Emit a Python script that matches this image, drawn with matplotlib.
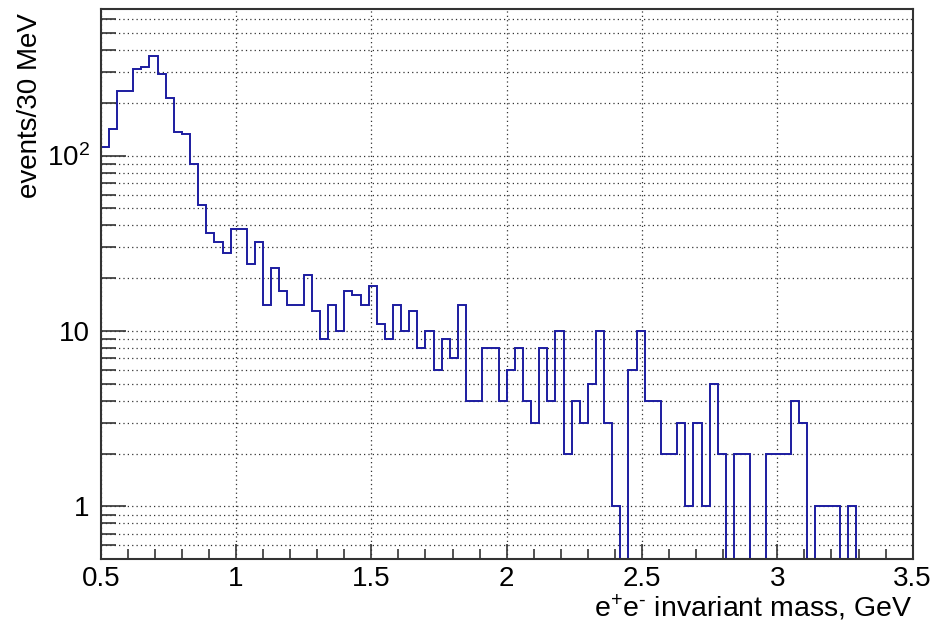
import numpy as np
import matplotlib
matplotlib.use('Agg')
import matplotlib.pyplot as plt
from matplotlib.ticker import FixedLocator, MultipleLocator, NullFormatter

plt.rcParams['font.family'] = 'Liberation Sans'
plt.rcParams['mathtext.fontset'] = 'custom'
plt.rcParams['mathtext.rm'] = 'Liberation Sans'
plt.rcParams['mathtext.it'] = 'Liberation Sans:italic'

# ----------------------------------------------------------------------------
# Data: e+e- invariant mass, 30 MeV bins starting at 0.5 GeV
# ----------------------------------------------------------------------------
mass_lo = 0.5       # GeV, first bin edge
bin_width = 0.03    # GeV
counts = [112, 141, 234, 234, 312, 321, 369, 291, 213, 136,
          133, 89, 52, 36, 32, 28, 38, 38, 24, 32,
          14, 23, 17, 14, 14, 21, 13, 9, 14, 10,
          17, 16, 14, 18, 11, 9, 14, 10, 13, 8,
          10, 6, 9, 7, 14, 4, 4, 8, 8, 4,
          6, 8, 4, 3, 8, 4, 10, 2, 4, 3,
          5, 10, 3, 1, 0, 6, 10, 4, 4, 2,
          2, 3, 1, 3, 1, 5, 2, 0, 2, 2,
          0, 0, 2, 2, 2, 4, 3, 0, 1, 1,
          1, 0, 1, 0, 0, 0, 0, 0, 0, 0]

x_ticks = [0.5, 1, 1.5, 2, 2.5, 3, 3.5]
x_ticklabels = ['0.5', '1', '1.5', '2', '2.5', '3', '3.5']
y_ticks = [1, 10, 100]
y_ticklabels = ['1', '10', '$10^{2}$']

edges = mass_lo + bin_width * np.arange(len(counts) + 1)

# ----------------------------------------------------------------------------
# Figure
# ----------------------------------------------------------------------------
fig = plt.figure(figsize=(9.37, 6.24), dpi=100)
ax = fig.add_axes([0.1075, 0.1037, 0.974 - 0.1075, 0.9856 - 0.1037])

ax.stairs(counts, edges, color='#1c1ca0', lw=1.4, baseline=0)

ax.set_yscale('log')
ax.set_xlim(0.5, 3.5)
ax.set_ylim(0.5, 685)

ax.xaxis.set_major_locator(FixedLocator(x_ticks))
ax.set_xticklabels(x_ticklabels)
ax.xaxis.set_minor_locator(MultipleLocator(0.1))
ax.yaxis.set_major_locator(FixedLocator(y_ticks))
ax.set_yticklabels(y_ticklabels)
ax.yaxis.set_minor_locator(matplotlib.ticker.LogLocator(base=10, subs=np.arange(2, 10)))
ax.yaxis.set_minor_formatter(NullFormatter())

ax.tick_params(axis='both', which='both', direction='in', labelsize=20,
               color='#333333', width=1.2)
ax.tick_params(axis='x', which='major', length=11, pad=5)
ax.tick_params(axis='x', which='minor', length=7)
ax.tick_params(axis='y', which='major', length=18, pad=8)
ax.tick_params(axis='y', which='minor', length=11)

ax.grid(True, axis='x', which='major', ls=(0, (1, 2.5)), lw=0.9, color='#333333')
ax.grid(True, axis='y', which='both', ls=(0, (1, 2.5)), lw=0.9, color='#333333')
ax.set_axisbelow(True)

for s in ax.spines.values():
    s.set_color('#333333')
    s.set_linewidth(1.5)

ax.set_xlabel(r'e$^{+}$e$^{\text{-}}$ invariant mass, GeV', fontsize=20.5, loc='right')
ax.xaxis.set_label_coords(1.0, -(617 - 559.3) / 550.3)
ax.xaxis.label.set_va('baseline')

ax.set_ylabel('events/30 MeV', fontsize=20, loc='top')
ax.yaxis.set_label_coords(-(100.7 - 30) / 812.0, (559.3 - 13) / 550.3)
ax.yaxis.label.set_va('center')

plt.savefig('out.png', dpi=100)
plt.close()
